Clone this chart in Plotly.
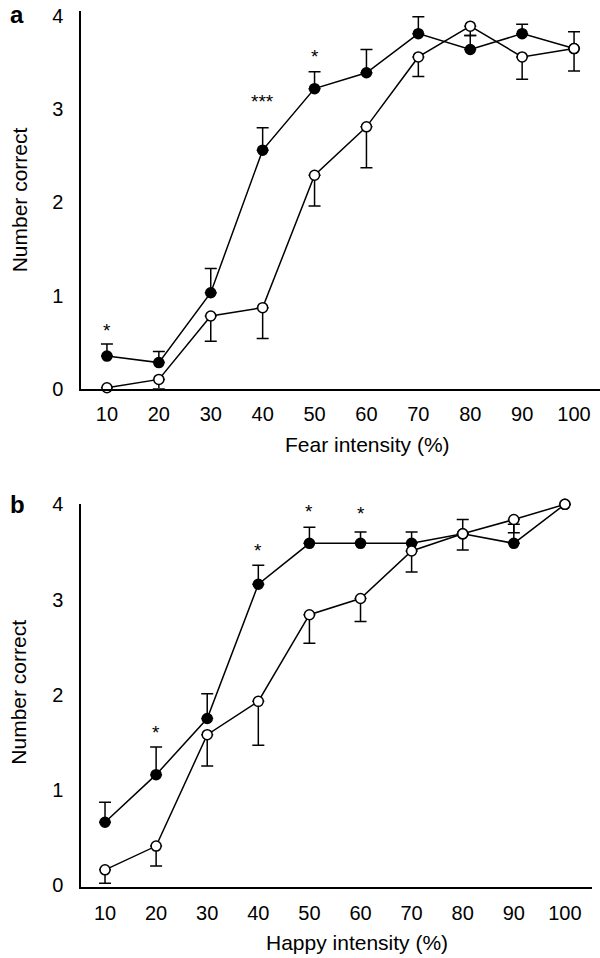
import plotly.graph_objects as go

# ---------------- data ----------------
intensity = [10, 20, 30, 40, 50, 60, 70, 80, 90, 100]
x_ticks = [10, 20, 30, 40, 50, 60, 70, 80, 90, 100]
y_ticks = [0, 1, 2, 3, 4]

# Panel a (fear)
fear_filled = [0.35, 0.28, 1.03, 2.56, 3.22, 3.39, 3.81, 3.64, 3.81, 3.65]
fear_filled_err = [0.13, 0.12, 0.26, 0.24, 0.18, 0.25, 0.18, 0.15, 0.10, 0.18]
fear_open = [0.01, 0.10, 0.78, 0.87, 2.29, 2.81, 3.56, 3.89, 3.56, 3.65]
fear_open_err = [0.0, 0.10, 0.27, 0.33, 0.33, 0.44, 0.21, 0.10, 0.24, 0.24]
fear_sig_x = [10, 40, 50]
fear_sig_y = [0.62, 3.08, 3.57]
fear_sig_txt = ["*", "***", "*"]

# Panel b (happy)
happy_filled = [0.66, 1.16, 1.75, 3.16, 3.59, 3.59, 3.59, 3.69, 3.59, 4.0]
happy_filled_err = [0.21, 0.29, 0.26, 0.20, 0.17, 0.12, 0.12, 0.15, 0.20, 0.0]
happy_open = [0.16, 0.41, 1.58, 1.93, 2.84, 3.01, 3.51, 3.69, 3.84, 4.0]
happy_open_err = [0.14, 0.21, 0.33, 0.46, 0.30, 0.24, 0.22, 0.17, 0.14, 0.0]
happy_sig_x = [20, 40, 50, 60]
happy_sig_y = [1.60, 3.52, 3.92, 3.90]
happy_sig_txt = ["*", "*", "*", "*"]

FONT = "Liberation Sans, Arial, Helvetica, sans-serif"
W, H = 600, 958
ML, MR, MT, MB = 81, 0, 8, 71
PW, PH = W - ML - MR, H - MT - MB


def px(x):
    return (x - ML) / PW


def py(y):
    return (H - MB - y) / PH


fig = go.Figure()


def add_panel(filled, ferr, opened, oerr, xa, ya):
    zeros = [0] * len(filled)
    fig.add_trace(go.Scatter(
        x=intensity, y=filled, mode="lines+markers", xaxis=xa, yaxis=ya,
        line=dict(color="black", width=1.5),
        marker=dict(color="black", size=10, line=dict(color="black", width=1.5)),
        error_y=dict(type="data", symmetric=False, array=ferr, arrayminus=zeros,
                     color="black", thickness=1.5, width=6),
        cliponaxis=False, showlegend=False))
    fig.add_trace(go.Scatter(
        x=intensity, y=opened, mode="lines+markers", xaxis=xa, yaxis=ya,
        line=dict(color="black", width=1.5),
        marker=dict(color="white", size=10, line=dict(color="black", width=1.5)),
        error_y=dict(type="data", symmetric=False, array=zeros, arrayminus=oerr,
                     color="black", thickness=1.5, width=6),
        cliponaxis=False, showlegend=False))


add_panel(fear_filled, fear_filled_err, fear_open, fear_open_err, "x", "y")
add_panel(happy_filled, happy_filled_err, happy_open, happy_open_err, "x2", "y2")

ax_common = dict(showline=True, linecolor="black", linewidth=1.5, ticks="",
                 showgrid=False, zeroline=False, mirror=False,
                 tickfont=dict(family=FONT, size=20, color="black"))

a_top, a_bot = py(8), py(387)
b_top, b_bot = py(503), py(887)

fig.update_layout(
    width=W, height=H,
    margin=dict(l=ML, r=MR, t=MT, b=MB, pad=0),
    paper_bgcolor="white", plot_bgcolor="white",
    xaxis=dict(domain=[0, 1], range=[5, 105], tickvals=x_ticks,
               anchor="y", ticklabelstandoff=7, **ax_common),
    yaxis=dict(domain=[a_bot, a_top], range=[0, 4.053], tickvals=y_ticks,
               anchor="x", ticklabelstandoff=12, **ax_common),
    xaxis2=dict(domain=[0, px(592)], range=[5.3, 105.3], tickvals=x_ticks,
                anchor="y2", ticklabelstandoff=7, **ax_common),
    yaxis2=dict(domain=[b_bot, b_top], range=[-0.02, 4.0], tickvals=y_ticks,
                anchor="x2", ticklabelstandoff=12, **ax_common),
)

ann = []
for x, y, t in zip(fear_sig_x, fear_sig_y, fear_sig_txt):
    ann.append(dict(x=x, y=y, xref="x", yref="y", text=t, showarrow=False,
                    font=dict(family=FONT, size=19, color="black")))
for x, y, t in zip(happy_sig_x, happy_sig_y, happy_sig_txt):
    ann.append(dict(x=x, y=y, xref="x2", yref="y2", text=t, showarrow=False,
                    font=dict(family=FONT, size=19, color="black")))

title_font = dict(family=FONT, size=21, color="black")
ann += [
    dict(x=px(367), y=py(443), xref="paper", yref="paper", text="Fear intensity (%)",
         showarrow=False, font=title_font, xanchor="center", yanchor="middle"),
    dict(x=px(357), y=py(943), xref="paper", yref="paper", text="Happy intensity (%)",
         showarrow=False, font=title_font, xanchor="center", yanchor="middle"),
    dict(x=px(19), y=py(198), xref="paper", yref="paper", text="Number correct",
         showarrow=False, font=title_font, textangle=-90, xanchor="center", yanchor="middle"),
    dict(x=px(19), y=py(692), xref="paper", yref="paper", text="Number correct",
         showarrow=False, font=title_font, textangle=-90, xanchor="center", yanchor="middle"),
    dict(x=px(17), y=py(12), xref="paper", yref="paper", text="<b>a</b>",
         showarrow=False, font=dict(family=FONT, size=24, color="black"),
         xanchor="center", yanchor="middle"),
    dict(x=px(17), y=py(503), xref="paper", yref="paper", text="<b>b</b>",
         showarrow=False, font=dict(family=FONT, size=24, color="black"),
         xanchor="center", yanchor="middle"),
]
fig.update_layout(annotations=ann)

fig.write_html("out.html",
               config={"displayModeBar": False},
               post_script="document.body.style.margin='0';document.body.style.overflow='hidden';")
